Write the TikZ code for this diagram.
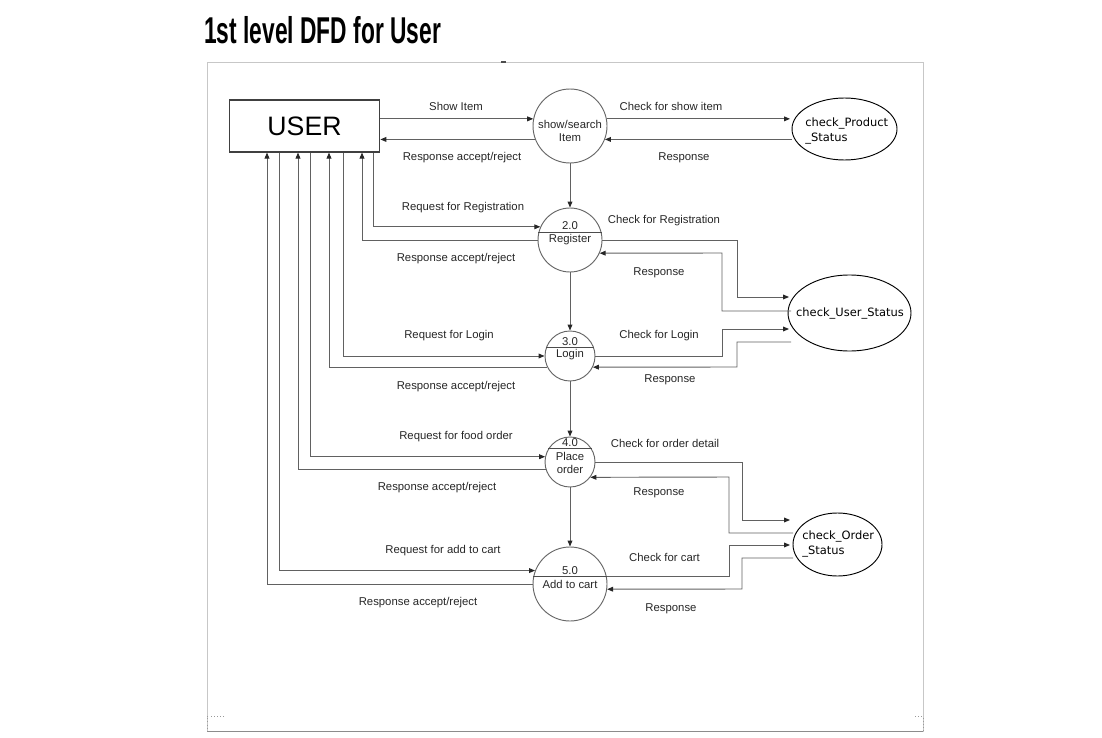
\documentclass[tikz,border=0pt]{standalone}
\usepackage{fontspec}
\setmainfont{Liberation Sans}
\newfontfamily\storefont{DejaVu Sans}
\usetikzlibrary{arrows.meta,shapes.geometric}

\begin{document}
\begin{tikzpicture}[
        x=0.75pt,y=-0.75pt,
        flow/.style={draw=black!62,line width=0.7pt,
            -{Triangle[length=4.5pt,width=3.6pt,color=black!85]}},
        entity/.style={draw=black!75,line width=0.8pt,inner sep=0pt,
            minimum width=113pt,minimum height=39pt,
            font=\fontsize{20}{22}\selectfont},
        process/.style={circle,draw=black!60,line width=0.7pt,inner sep=0pt,minimum size=#1},
        store/.style={ellipse,draw=black,line width=0.7pt,inner sep=0pt},
        lbl/.style={font=\fontsize{8.5}{10}\selectfont,text=black!85,inner sep=1pt},
        ptext/.style={font=\fontsize{8.5}{9.75}\selectfont,text=black!85,align=center,inner sep=0pt},
        stext/.style={font=\storefont\fontsize{8.6}{11.25}\selectfont,align=left,inner sep=0pt},
        divider/.style={draw=black!70,line width=0.7pt},
        ]
    \useasboundingbox (0,0) rectangle (1102,738);
    % frame of the page
    \draw[black!22,line width=0.7pt] (207,62) rectangle (923,731);
    \draw[black!45,line width=0.7pt] (207,731) -- (923,731);
    \draw[black!70,line width=0.8pt] (501,62) -- (506,62);
    \draw[black!40,dotted] (224,716) -- (207,716) -- (207,731);
    \draw[black!40,dotted] (915,716) -- (923,716) -- (923,731);

    \node[anchor=base west,inner sep=0pt] (title) at (204,44)
        {\scalebox{0.61}[1]{\fontsize{28}{30}\selectfont\bfseries 1st level DFD for User}};

    % external entity and processes
    \node[entity] (user) at (304.5,126) {USER};
    \node[process=55.5pt] (show) at (570,126) {};
    \node[process=48pt] (reg) at (570,240) {};
    \node[process=37.5pt] (login) at (570,356) {};
    \node[process=37.5pt] (order) at (570,462) {};
    \node[process=55.5pt] (cart) at (570,584) {};

    \node[ptext] (showtxt) at (570,131) {show/search\\Item};
    \draw[divider] (reg.167) -- (reg.13);
    \node[ptext] (regno) at (570,226) {2.0};
    \node[ptext] (regtxt) at (570,240) {Register};
    \draw[divider] (login.161) -- (login.19);
    \node[ptext] (loginno) at (570,342) {3.0};
    \node[ptext] (logintxt) at (570,355) {Login};
    \draw[divider] (order.149) -- (order.31);
    \node[ptext] (orderno) at (570,443) {4.0};
    \node[ptext] (ordertxt) at (570,462.5) {Place\\order};
    \draw[divider] (cart.169) -- (cart.11);
    \node[ptext] (cartno) at (570,571) {5.0};
    \node[ptext] (carttxt) at (570,584) {Add to cart};

    % data stores
    \node[store,minimum width=78.75pt,minimum height=46.5pt] (prodst) at (844.5,129) {};
    \node[stext,anchor=west] (prodtxt) at (805,131) {check\_Product\\\_Status};
    \node[store,minimum width=92.25pt,minimum height=57pt] (userst) at (849.5,313) {};
    \node[stext] (usertxt) at (850,313) {check\_User\_Status};
    \node[store,minimum width=66.75pt,minimum height=47.25pt] (ordst) at (837.5,544.5) {};
    \node[stext,anchor=west] (ordtxt) at (802,544) {check\_Order\\\_Status};

    % free ends beside the stores
    \coordinate (psIn) at (790,119);
    \coordinate (psOut) at (792,139);
    \coordinate (usIn1) at (789,297);
    \coordinate (usOut1) at (791,311);
    \coordinate (usIn2) at (789,329);
    \coordinate (usOut2) at (791,342);
    \coordinate (osIn1) at (790,520);
    \coordinate (osOut1) at (793,533);
    \coordinate (osIn2) at (790,545);
    \coordinate (osOut2) at (793,558);

    % lines below the user box
    \coordinate (rqReg) at (373,0);
    \coordinate (rsReg) at (362,0);
    \coordinate (rqLogin) at (343,0);
    \coordinate (rsLogin) at (329,0);
    \coordinate (rqOrder) at (310,0);
    \coordinate (rsOrder) at (298,0);
    \coordinate (rqCart) at (279,0);
    \coordinate (rsCart) at (267,0);

    % show / search
    \draw[flow] (user.east |- show.169) -- (show.169);
    \draw[flow] (show.201) -- (user.east |- show.201);
    \draw[flow] (show.11) -- (show.11 -| psIn);
    \draw[flow] (psOut |- show.339) -- (show.339);
    \node[lbl] (l1) at (456,106) {Show Item};
    \node[lbl] (l2) at (462,158) {Response accept/reject};
    \node[lbl] (l3) at (671,106) {Check for show item};
    \node[lbl] (l4) at (684,158) {Response};

    % register
    \draw[flow] (user.south -| rqReg) |- (reg.156);
    \draw[flow] (reg.west) -| (user.south -| rsReg);
    \draw[flow] (reg.east) -| (737,297) -- (usIn1);
    \draw[flow] (usOut1) -| (722,253) -- (reg.336);
    \node[lbl] (l5) at (463,208) {Request for Registration};
    \node[lbl] (l6) at (456,259) {Response accept/reject};
    \node[lbl] (l7) at (664,221) {Check for Registration};
    \node[lbl] (l8) at (659,273) {Response};

    % login
    \draw[flow] (user.south -| rqLogin) |- (login.west);
    \draw[flow] (login.206) -| (user.south -| rsLogin);
    \draw[flow] (login.east) -| (722,329) -- (usIn2);
    \draw[flow] (usOut2) -| (737,367) -- (login.334);
    \node[lbl] (l9) at (449,336) {Request for Login};
    \node[lbl] (l10) at (456,387) {Response accept/reject};
    \node[lbl] (l11) at (659,336) {Check for Login};
    \node[lbl] (l12) at (670,380) {Response};

    % place order
    \draw[flow] (user.south -| rqOrder) |- (order.168);
    \draw[flow] (order.196) -| (user.south -| rsOrder);
    \draw[flow] (order.east) -| (742,520) -- (osIn1);
    \draw[flow] (osOut1) -| (729,477) -- (order.323);
    \node[lbl] (l13) at (456,437) {Request for food order};
    \node[lbl] (l14) at (437,488) {Response accept/reject};
    \node[lbl] (l15) at (665,443) {Check for order detail};
    \node[lbl] (l16) at (659,493) {Response};

    % add to cart
    \draw[flow] (user.south -| rqCart) |- (cart.159);
    \draw[flow] (cart.west) -| (user.south -| rsCart);
    \draw[flow] (cart.11) -| (729,545) -- (osIn2);
    \draw[flow] (osOut2) -| (742,589) -- (cart.352);
    \node[lbl] (l17) at (443,551) {Request for add to cart};
    \node[lbl] (l18) at (418,603) {Response accept/reject};
    \node[lbl] (l19) at (664.5,557) {Check for cart};
    \node[lbl] (l20) at (671,609) {Response};

    % down the processes
    \draw[flow] (show.south) -- (reg.north);
    \draw[flow] (reg.south) -- (login.north);
    \draw[flow] (login.south) -- (order.north);
    \draw[flow] (order.south) -- (cart.north);
\end{tikzpicture}
\end{document}
